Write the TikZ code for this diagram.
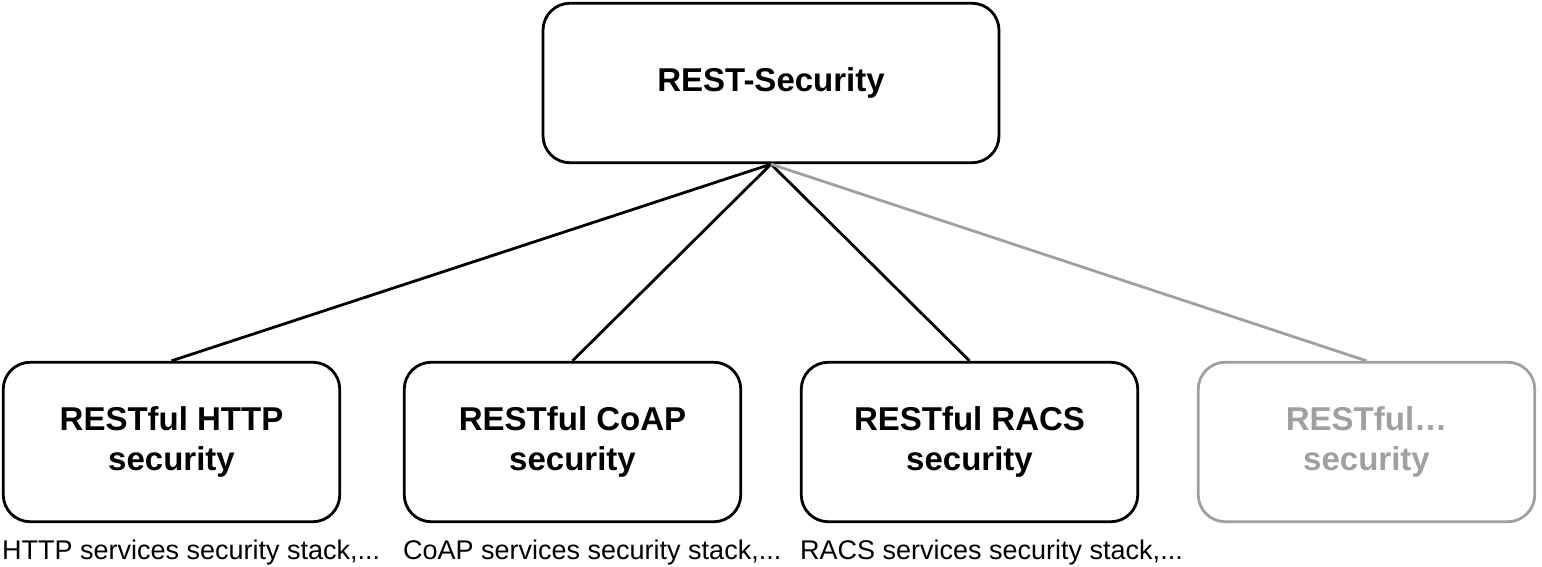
\documentclass[tikz,border=0pt]{standalone}
\usepackage{fontspec}
\setmainfont{Liberation Sans}
\definecolor{faded}{HTML}{A0A0A0}
\tikzset{
  box/.style={draw, line width=2.8pt, rounded corners=27pt, minimum width=336.5pt, minimum height=159.5pt,
    align=center, inner sep=0pt, font=\fontsize{33}{40}\selectfont\bfseries},
  topbox/.style={box, minimum width=456pt},
  link/.style={line width=2.8pt},
  caption/.style={anchor=base west, inner sep=0pt, font=\fontsize{27}{32}\selectfont}
}
\begin{document}
\begin{tikzpicture}[x=1pt,y=-1pt]
\useasboundingbox (0,0) rectangle (1542,567);
\node[topbox] (top) at (771,83) {REST-Security};
\node[box] (http) at (171.5,442) {RESTful HTTP\\security};
\node[box] (coap) at (572.5,442) {RESTful CoAP\\security};
\node[box] (racs) at (969.5,442) {RESTful RACS\\security};
\node[box, draw=faded, text=faded] (other) at (1366.5,442) {RESTful…\\security};
\draw[link] (top.south) -- (http.north);
\draw[link] (top.south) -- (coap.north);
\draw[link] (top.south) -- (racs.north);
\draw[link, draw=faded] (top.south) -- (other.north);
\node[caption] (c1) at (2,559) {HTTP services security stack,...};
\node[caption] (c2) at (403,559) {CoAP services security stack,...};
\node[caption] (c3) at (800,559) {RACS services security stack,...};
\end{tikzpicture}
\end{document}
